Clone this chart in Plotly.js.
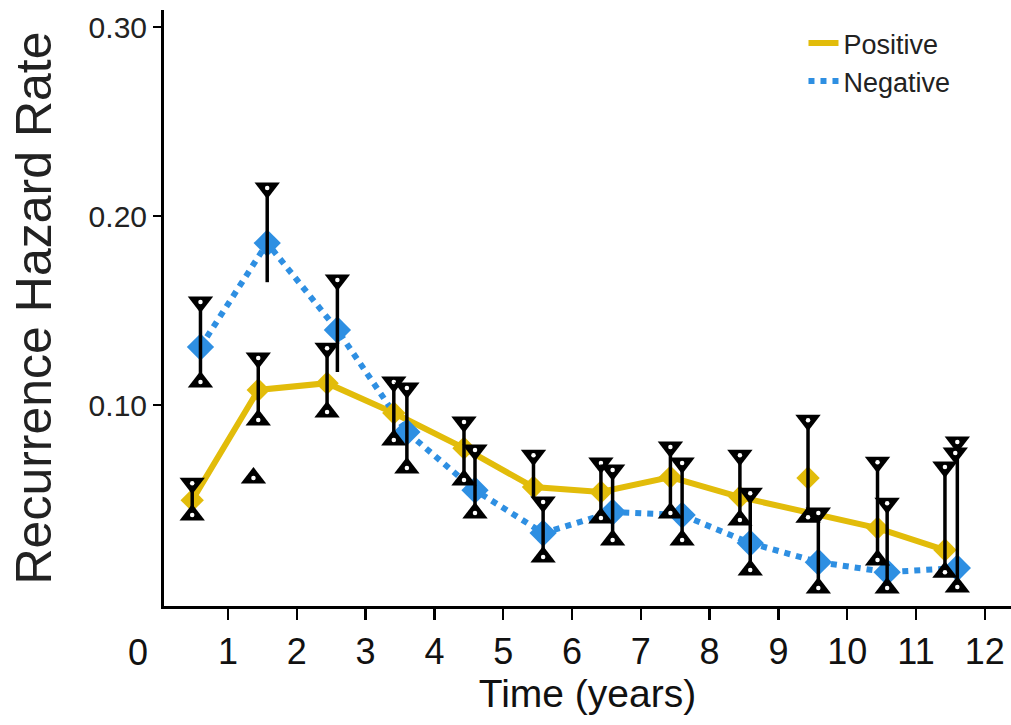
<!DOCTYPE html>
<html><head><meta charset="utf-8">
<script src="https://cdn.plot.ly/plotly-3.0.1.min.js"></script>
<style>html,body{margin:0;padding:0;background:#fff}#chart{width:1011px;height:725px}</style>
</head><body><div id="chart"></div>
<script>
// ---- data ----
const xTickVals = [1, 2, 3, 4, 5, 6, 7, 8, 9, 10, 11, 12];
const xTickText = ['1', '2', '3', '4', '5', '6', '7', '8', '9', '10', '11', '12'];
const xZeroLabel = '0';
const yTickVals = [0.10, 0.20, 0.30];
const yTickText = ['0.10', '0.20', '0.30'];

// Positive
const posX     = [0.48, 1.44, 2.44, 3.41, 4.43, 5.44, 6.42, 7.43, 8.44, 9.43, 10.44, 11.42];
const posRate  = [0.0497, 0.1080, 0.1116, 0.0958, 0.0772, 0.0566, 0.0540, 0.0619, 0.0513, 0.0614, 0.0349, 0.0233];
const posTrend = [0.0497, 0.1080, 0.1116, 0.0958, 0.0772, 0.0566, 0.0540, 0.0619, 0.0513, 0.0434, 0.0349, 0.0233];
const posLower = [0.0418, 0.0921, 0.0963, 0.0815, 0.0603, 0.0513, 0.0402, 0.0429, 0.0392, 0.0407, 0.0180, 0.0116];
const posUpper = [0.0587, 0.1249, 0.1300, 0.1122, 0.0910, 0.0735, 0.0693, 0.0778, 0.0735, 0.0920, 0.0698, 0.0672];
const posNoLowerCap = [5];

// Negative
const negX     = [0.60, 1.57, 2.59, 3.60, 4.59, 5.58, 6.59, 7.60, 8.59, 9.58, 10.58, 11.60];
const negRate  = [0.1307, 0.1857, 0.1397, 0.0857, 0.0550, 0.0323, 0.0434, 0.0418, 0.0270, 0.0169, 0.0116, 0.0138];
const negLower = [0.1122, 0.1650, 0.1175, 0.0667, 0.0429, 0.0196, 0.0286, 0.0286, 0.0127, 0.0032, 0.0032, 0.0037];
const negUpper = [0.1545, 0.2148, 0.1661, 0.1090, 0.0762, 0.0487, 0.0656, 0.0693, 0.0534, 0.0429, 0.0481, 0.0804];
const negNoLowerCap = [1, 2];

// stray cap markers visible in the reference
const strayUpX = [1.37];
const strayUpY = [0.0614];
const strayDownX = [11.57];
const strayDownY = [0.0746];

// ---- styling ----
const YELLOW = '#E2BC0A';
const BLUE = '#2E8FE2';
const SANS = '"Liberation Sans", Arial, sans-serif';

function capArray(vals, hidden) { return vals.map((v, i) => hidden.includes(i) ? null : v); }
function diff(a, b) { return a.map((v, i) => v - b[i]); }
const zeros = (a) => a.map(() => 0);

function capTraces(x, y, sym) {
  return [
    { x: x, y: y, mode: 'markers', showlegend: false, hoverinfo: 'skip',
      marker: { symbol: sym, size: 22, color: '#000', line: { width: 0 } } },
    { x: x, y: y, mode: 'markers', showlegend: false, hoverinfo: 'skip',
      marker: { symbol: 'circle', size: 4.5, color: '#fff', line: { width: 0 } } }
  ];
}
function barTrace(x, lower, upper) {
  return { x: x, y: lower, mode: 'markers', showlegend: false, hoverinfo: 'skip',
    marker: { size: 1, color: 'rgba(0,0,0,0)' },
    error_y: { type: 'data', symmetric: false, array: diff(upper, lower), arrayminus: zeros(lower),
               color: '#000', thickness: 3.5, width: 0 } };
}

const traces = [
  { x: posX, y: posTrend, mode: 'lines', name: 'Positive',
    line: { color: YELLOW, width: 6 }, hoverinfo: 'skip' },
  { x: negX, y: negRate, mode: 'lines', name: 'Negative',
    line: { color: BLUE, width: 6, dash: 'dot' }, hoverinfo: 'skip' },
  { x: posX, y: posRate, mode: 'markers', showlegend: false, hoverinfo: 'skip',
    marker: { symbol: 'diamond', size: 18, color: YELLOW } },
  { x: negX, y: negRate, mode: 'markers', showlegend: false, hoverinfo: 'skip',
    marker: { symbol: 'diamond', size: 21, color: BLUE } },
  barTrace(posX, posLower, posUpper),
  barTrace(negX, negLower, negUpper),
  ...capTraces(posX, posUpper, 'triangle-down'),
  ...capTraces(negX, negUpper, 'triangle-down'),
  ...capTraces(posX, capArray(posLower, posNoLowerCap), 'triangle-up'),
  ...capTraces(negX, capArray(negLower, negNoLowerCap), 'triangle-up'),
  ...capTraces(strayUpX, strayUpY, 'triangle-up'),
  ...capTraces(strayDownX, strayDownY, 'triangle-down')
];

const layout = {
  width: 1011, height: 725,
  margin: { l: 164, r: 0, t: 10, b: 119, pad: 0 },
  paper_bgcolor: '#fff', plot_bgcolor: '#fff',
  showlegend: true,
  legend: { x: 0.755, y: 0.985, xanchor: 'left', yanchor: 'top', bgcolor: 'rgba(0,0,0,0)',
            font: { family: SANS, size: 27, color: '#222' }, itemwidth: 30, tracegroupgap: 0 },
  xaxis: {
    range: [0.07, 12.38], showgrid: false, zeroline: false,
    showline: true, linecolor: '#000', linewidth: 3,
    ticks: 'outside', ticklen: 11, tickwidth: 2.5, tickcolor: '#000',
    tickmode: 'array', tickvals: xTickVals, ticktext: xTickText,
    tickfont: { family: SANS, size: 36, color: '#111' },
    ticklabelstandoff: 1,
    title: { text: 'Time (years)', font: { family: SANS, size: 39, color: '#111' }, standoff: 4 }
  },
  yaxis: {
    range: [-0.0063, 0.3090], showgrid: false, zeroline: false,
    showline: true, linecolor: '#000', linewidth: 3,
    ticks: 'outside', ticklen: 8, tickwidth: 2.5, tickcolor: '#000',
    tickmode: 'array', tickvals: yTickVals, ticktext: yTickText,
    tickfont: { family: SANS, size: 30, color: '#222' },
    title: { text: 'Recurrence Hazard Rate', font: { family: SANS, size: 50, color: '#222' }, standoff: 22 }
  },
  annotations: [
    { xref: 'paper', yref: 'paper', x: -0.0307, y: 0, text: xZeroLabel, showarrow: false,
      xanchor: 'center', yanchor: 'middle', yshift: -46,
      font: { family: SANS, size: 36, color: '#111' } }
  ]
};

Plotly.newPlot('chart', traces, layout, { displayModeBar: false, staticPlot: true });
</script>
</body></html>
